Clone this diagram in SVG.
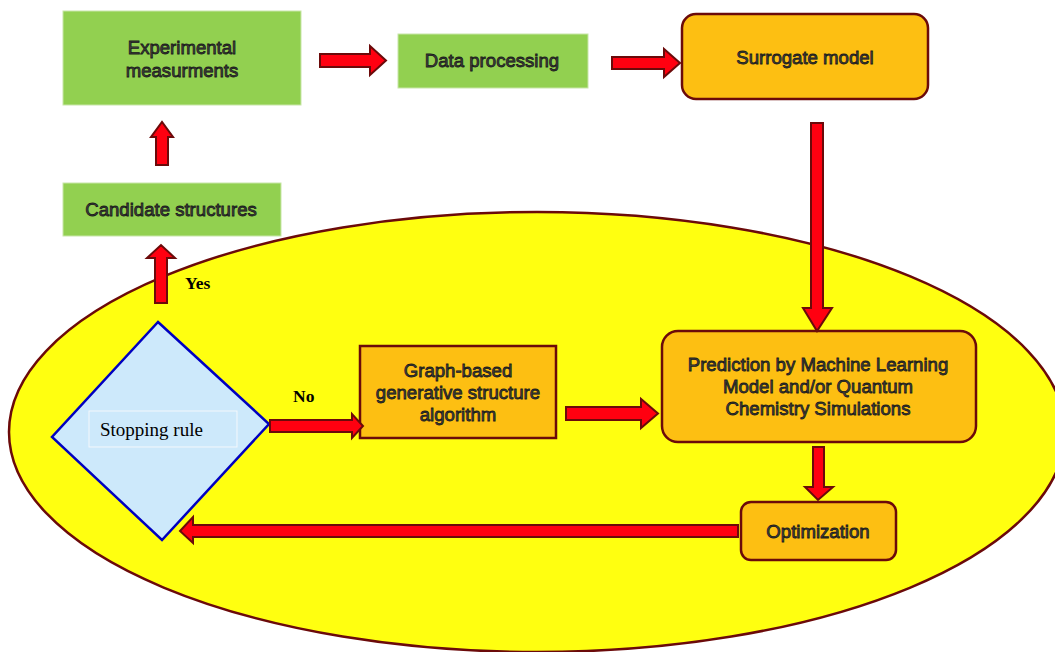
<svg xmlns="http://www.w3.org/2000/svg" width="1055" height="652" viewBox="0 0 1055 652">
<style>
.green{fill:#92d050;stroke:#c8e6a8;stroke-width:1}
.orange{fill:#fdbf12;stroke:#6b0a0a;stroke-width:2.5}
.lbl{font-family:"Liberation Sans",Arial,sans-serif;font-size:18.6px;fill:#454545;stroke:#1a1a1a;stroke-width:0.8;text-anchor:middle}
.ser{font-family:"Liberation Serif","Times New Roman",serif;fill:#000}
.arr{fill:#ff0010;stroke:#6b0a0a;stroke-width:2;stroke-linejoin:miter}
</style>
<rect width="1055" height="652" fill="#ffffff"/>
<ellipse id="region" cx="537" cy="432" rx="528" ry="220" fill="#ffff10" stroke="#6b0a0a" stroke-width="2.5"/>

<g id="exp"><rect class="green" x="63" y="11" width="238" height="94"/>
<text class="lbl" x="182" y="54">Experimental</text><text class="lbl" x="182" y="77">measurments</text></g>
<g id="data"><rect class="green" x="398" y="34" width="190" height="54"/>
<text class="lbl" x="492" y="67">Data processing</text></g>
<g id="surrogate"><rect class="orange" x="682" y="14" width="246" height="85" rx="14"/>
<text class="lbl" x="805" y="64">Surrogate model</text></g>
<g id="candidate"><rect class="green" x="63" y="183" width="218" height="53"/>
<text class="lbl" x="171" y="216">Candidate structures</text></g>
<g id="stopping"><polygon points="158,322 269,424 162,540 52,437" fill="#cde9fb" stroke="#0000c0" stroke-width="2.5"/>
<rect x="89" y="411" width="148" height="36" fill="none" stroke="#f4f8fc" stroke-width="1"/>
<text class="ser" x="100" y="436" font-size="19">Stopping rule</text></g>
<g id="graph"><rect class="orange" x="360" y="346" width="196" height="92"/>
<text class="lbl" x="458" y="377">Graph-based</text><text class="lbl" x="458" y="399">generative structure</text><text class="lbl" x="458" y="421">algorithm</text></g>
<g id="prediction"><rect class="orange" x="662" y="331" width="314" height="111" rx="16"/>
<text class="lbl" x="818" y="371">Prediction by Machine Learning</text><text class="lbl" x="818" y="393">Model and/or Quantum</text><text class="lbl" x="818" y="415">Chemistry Simulations</text></g>
<g id="optimization"><rect class="orange" x="741" y="502" width="155" height="58" rx="10"/>
<text class="lbl" x="818" y="538">Optimization</text></g>

<g id="connectors">
<path class="arr" d="M320,54 H370 V46 L386,60.5 L370,75 V67 H320 Z"/>
<path class="arr" d="M612,57 H664 V49 L680,63 L664,77 V69 H612 Z"/>
<path class="arr" d="M811,123 H823 V308 H832 L817,331 L803,308 H811 Z"/>
<path class="arr" d="M156,165 V137 H151 L162,122 L173,137 H168 V165 Z"/>
<path class="arr" d="M155,303 V258 H147 L161,245 L175,258 H167 V303 Z"/>
<path class="arr" d="M270,420 H352 V414 L363,426 L352,438 V432 H270 Z"/>
<path class="arr" d="M566,407 H641 V399 L658,413.5 L641,428 V420 H566 Z"/>
<path class="arr" d="M813,447 H824 V487 H833 L818,500 L805,487 H813 Z"/>
<path class="arr" d="M738,525 H193 V517 L180,531 L193,543 V537 H738 Z"/>
<text class="ser" x="185" y="289" font-size="17.5" font-weight="bold">Yes</text>
<text class="ser" x="293" y="402" font-size="17.5" font-weight="bold">No</text>
</g>
</svg>
